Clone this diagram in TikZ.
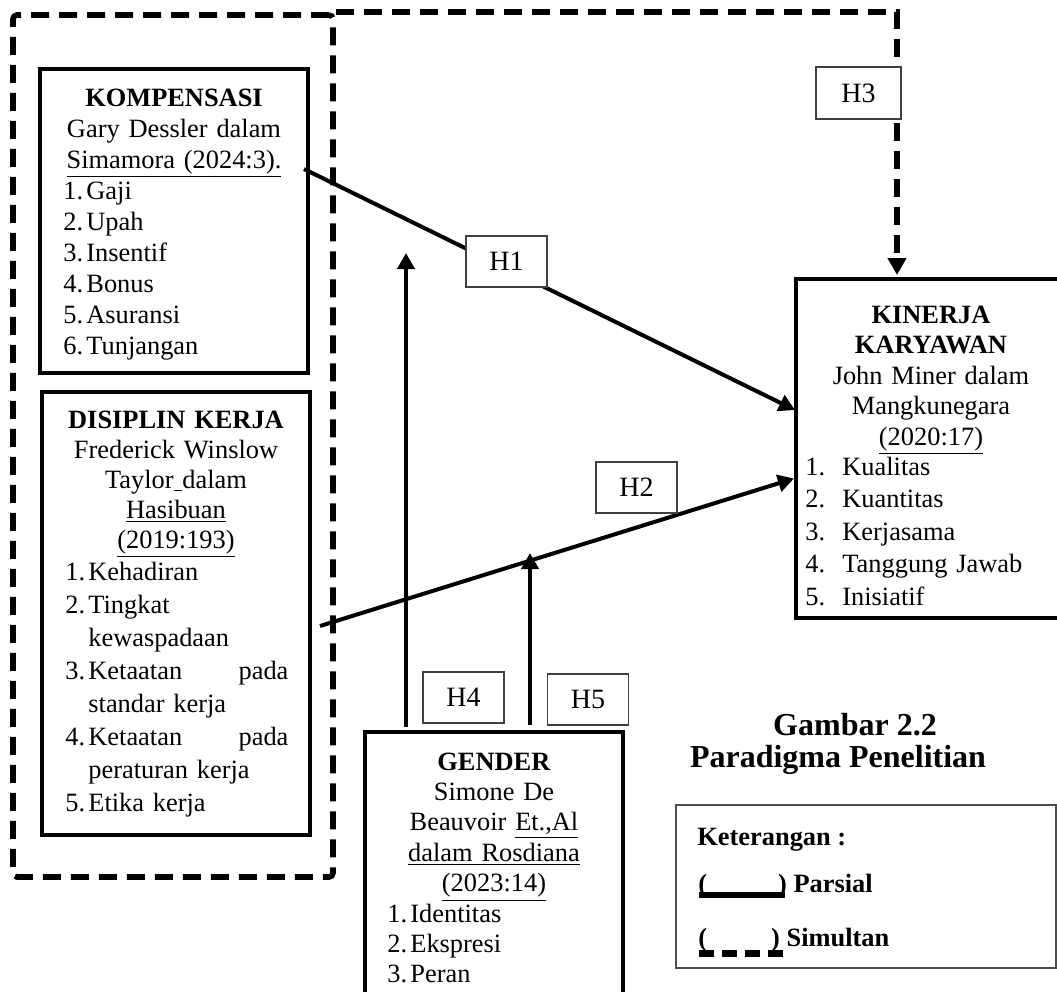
\documentclass[tikz,border=0pt]{standalone}
\usepackage{fontspec}
\setmainfont{Liberation Serif}
\usepackage{tikz}
\usetikzlibrary{arrows.meta}

\newcommand{\no}[2][11.5pt]{\makebox[#1][l]{#2}}

\tikzset{
  varbox/.style={draw, line width=2.2pt, inner sep=0pt},
  grup/.style={draw, line width=2.8pt, dash pattern=on 9pt off 5pt, rounded corners=2pt, inner sep=0pt},
  hipo/.style={draw=black!75, line width=0.8pt, fill=white, inner sep=0pt, minimum width=40.5pt, minimum height=25.5pt, font=\fontsize{14}{16}\selectfont},
  judul/.style={anchor=base, align=center, inner sep=0pt, text width=#1},
  butir/.style={anchor=base west, align=left, inner sep=0pt, text width=#1},
  parsial/.style={line width=2pt, -{Triangle[width=8.5pt,length=8pt]}},
  simultan/.style={line width=3pt, dash pattern=on 9pt off 5pt, -{Triangle[width=9pt,length=8.5pt]}},
  ket/.style={anchor=base west, inner sep=0pt, font=\fontsize{13.2}{15}\selectfont\bfseries},
}

\begin{document}
\begin{tikzpicture}[x=0.5pt,y=-0.5pt]
\useasboundingbox[fill=white] (0,0) rectangle (1057,992);

%Kelompok X1 X2 (simultan)
\node[grup, minimum width=160pt, minimum height=431pt] (grup) at (173,446) {};

%Kompensasi
\node[varbox, minimum width=134pt, minimum height=152pt] (komp) at (174,221) {};
\node[judul=120pt, font=\fontsize{13.2}{15.5}\selectfont] (kompjudul) at (174,106) {\textbf{KOMPENSASI}\\Gary Dessler dalam\\\underline{Simamora (2024:3).}};
\node[butir=120pt, font=\fontsize{13.2}{15.5}\selectfont] (kompbutir) at (63,199) {\no{1.}Gaji\\\no{2.}Upah\\\no{3.}Insentif\\\no{4.}Bonus\\\no{5.}Asuransi\\\no{6.}Tunjangan};

%Disiplin kerja
\node[varbox, minimum width=134pt, minimum height=221.5pt] (disp) at (176,613.5) {};
\node[judul=120pt, font=\fontsize{13.2}{15}\selectfont] (dispjudul) at (176,428) {\textbf{DISIPLIN KERJA}\\Frederick Winslow\\Taylor\underline{\ }dalam\\\underline{Hasibuan}\\\underline{(2019:193)}};
\node[butir=120pt, font=\fontsize{13.2}{16.5}\selectfont] (dispbutir) at (65,580) {\no{1.}Kehadiran\\\no{2.}Tingkat\\\hspace*{11.5pt}kewaspadaan\\\no{3.}\makebox[100pt][s]{Ketaatan\hfill pada}\\\hspace*{11.5pt}standar kerja\\\no{4.}\makebox[100pt][s]{Ketaatan\hfill pada}\\\hspace*{11.5pt}peraturan kerja\\\no{5.}Etika kerja};

%Kinerja karyawan
\node[varbox, minimum width=134.5pt, minimum height=169.5pt] (kin) at (930.5,448.5) {};
\node[judul=130pt, font=\fontsize{13.2}{15.25}\selectfont] (kinjudul) at (931,323) {\textbf{KINERJA}\\\textbf{KARYAWAN}\\John Miner dalam\\Mangkunegara\\\underline{(2020:17)}};
\node[butir=130pt, font=\fontsize{13.2}{16.25}\selectfont] (kinbutir) at (805,475) {\no[18.5pt]{1.}Kualitas\\\no[18.5pt]{2.}Kuantitas\\\no[18.5pt]{3.}Kerjasama\\\no[18.5pt]{4.}Tanggung Jawab\\\no[18.5pt]{5.}Inisiatif};

%Gender
\node[varbox, minimum width=129pt, minimum height=139pt] (gen) at (494,871) {};
\node[judul=120pt, font=\fontsize{13.2}{15.2}\selectfont] (genjudul) at (494,770) {\textbf{GENDER}\\Simone De\\Beauvoir \underline{Et.,Al}\\\underline{dalam Rosdiana}\\\underline{(2023:14)}};
\node[butir=110pt, font=\fontsize{13.2}{15.2}\selectfont] (genbutir) at (387,922) {\no{1.}Identitas\\\no{2.}Ekspresi\\\no{3.}Peran};

%Ujung garis
\coordinate (kompkanan) at (304,169);
\coordinate (kinkiri1) at (795,410);
\coordinate (dispkanan) at (320,626);
\coordinate (kinkiri2) at (794,478.5);
\coordinate (kinatas) at (897,275);
\coordinate (genatas1) at (406,727);
\coordinate (ujungh4) at (406,253);
\coordinate (genatas2) at (530,725);
\coordinate (ujungh5) at (530,553);

%Garis hipotesis
\draw[parsial] (kompkanan) -- (kinkiri1);
\draw[parsial] (dispkanan) -- (kinkiri2);
\draw[simultan] (grup.north east) -| (kinatas);
\draw[parsial] (genatas1) -- (ujungh4);
\draw[parsial] (genatas2) -- (ujungh5);

%Label hipotesis
\node[hipo] (h1) at (506.5,261.5) {H1};
\node[hipo] (h2) at (636.5,487.5) {H2};
\node[hipo, minimum width=42.5pt, minimum height=26pt] (h3) at (858.5,93) {H3};
\node[hipo] (h4) at (463.5,697.5) {H4};
\node[hipo] (h5) at (588,699.5) {H5};

%Judul gambar
\node[anchor=base, inner sep=0pt, font=\fontsize{16}{18}\selectfont\bfseries] (gbr) at (855,735) {Gambar 2.2};
\node[anchor=base, inner sep=0pt, font=\fontsize{16}{18}\selectfont\bfseries] (parad) at (838,767) {Paradigma Penelitian};

%Keterangan
\node[draw=black!70, line width=0.9pt, inner sep=0pt, minimum width=190pt, minimum height=81.5pt] (ket) at (866,886.5) {};
\node[ket] (ketjudul) at (697,845) {Keterangan :};
\node[ket] (ketpar) at (698,892) {(\hspace{35.5pt}) Parsial};
\node[ket] (ketsim) at (698,946) {(\hspace{32pt}) Simultan};
\draw[line width=3pt] ([shift={(1,3)}]ketpar.base west) -- ++(86,0);
\draw[line width=3.5pt, dash pattern=on 7.5pt off 4pt] ([shift={(1,7.5)}]ketsim.base west) -- ++(84,0);
\end{tikzpicture}
\end{document}
